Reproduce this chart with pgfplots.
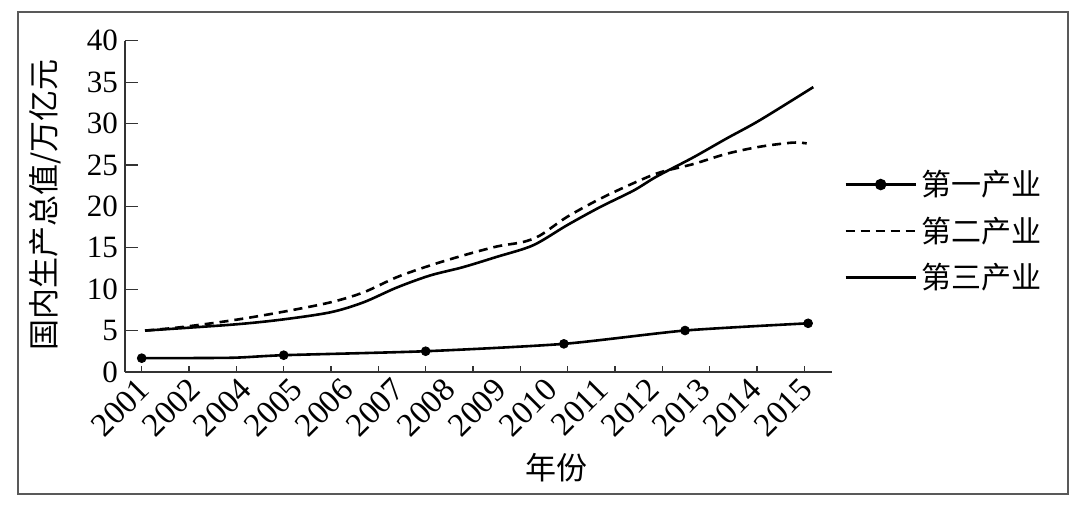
\documentclass[border=0pt]{standalone}
\usepackage{fontspec}
\setmainfont{Liberation Serif}
\newfontfamily\cjk{Noto Sans CJK SC}
\usepackage{pgfplots}
\pgfplotsset{compat=1.18}
\pgfplotstableread{
x y
0.00 1.67
1.90 1.72
3.00 2.03
6.00 2.51
8.92 3.40
11.48 5.01
14.08 5.88
}\primary
\pgfplotstableread{
x y
0.07 5.0
0.81 5.4
1.87 6.2
2.92 7.2
3.98 8.4
4.68 9.6
5.39 11.45
6.09 12.86
6.79 14.07
7.50 15.15
8.06 15.7
8.42 16.5
8.98 18.7
9.68 20.9
10.39 22.8
10.95 24.1
11.65 25.1
12.36 26.35
13.06 27.2
13.76 27.7
14.05 27.6
}\secondary
\pgfplotstableread{
x y
0.07 5.0
1.87 5.7
2.92 6.3
3.98 7.2
4.68 8.4
5.39 10.2
6.09 11.65
6.79 12.66
7.50 13.9
8.27 15.3
8.98 17.7
9.68 19.9
10.39 21.9
10.88 23.6
11.65 25.9
12.36 28.2
13.06 30.4
14.19 34.4
}\tertiary
\pgfplotsset{myax/.style={scale only axis, width=353.5pt, height=165.65pt,
  at={(0pt,0pt)}, anchor=south west,
  xmin=-0.353, xmax=14.585, ymin=0, ymax=40,
  axis x line=bottom, axis y line=left, tick align=inside}}
\begin{document}
\begin{tikzpicture}
\useasboundingbox (-62.5pt,-66.5pt) rectangle (477.5pt,186pt);
\draw[black!65, line width=0.6pt] (-53.5pt,-61pt) rectangle (471.5pt,180pt);
\begin{axis}[myax,
  axis line style={-, line width=0.6pt, black!80},
  xtick={0,...,14}, xticklabels={}, ytick=\empty,
  major tick length=3pt,
  tick style={black!80, line width=0.6pt},
  xlabel={\cjk\fontsize{15.5}{18}\selectfont 年份},
  xlabel style={at={(axis description cs:0.611,-0.29)}, anchor=center},
  ylabel={\cjk\fontsize{15.5}{18}\selectfont 国内生产总值/万亿元},
  ylabel style={at={(axis description cs:-0.113,0.504)}, anchor=center},
  legend image code/.code={\draw[#1, mark repeat=2, mark phase=2] plot coordinates {(0pt,0pt) (17.5pt,0pt) (35pt,0pt)};},
  legend style={draw=none, fill=none, at={(axis description cs:1.0,0.634)}, anchor=north west, xshift=3pt,
    font=\cjk\fontsize{15}{18}\selectfont, row sep=5pt},
  legend cell align=left,
  clip=false]
\addlegendimage{black, line width=1.3pt, mark=*, mark size=2.2pt}
\addlegendentry{第一产业}
\addlegendimage{black, line width=1.3pt, dash pattern=on 4.5pt off 3pt}
\addlegendentry{第二产业}
\addlegendimage{black, line width=1.3pt}
\addlegendentry{第三产业}
\addplot[black, line width=1.3pt, smooth, tension=0.4, forget plot] table[x=x,y=y] {\primary};
\addplot[black, only marks, mark=*, mark size=2.2pt, mark indices={1,3,4,5,6,7}, forget plot] table[x=x,y=y] {\primary};
\addplot[black, line width=1.3pt, smooth, tension=0.5, dash pattern=on 4.5pt off 3pt, forget plot] table[x=x,y=y] {\secondary};
\addplot[black, line width=1.3pt, smooth, tension=0.5, forget plot] table[x=x,y=y] {\tertiary};
\end{axis}
\begin{axis}[myax,
  axis line style={draw=none},
  xtick={0,1.0769,2.1538,3.2308,4.3077,5.3846,6.4615,7.5385,8.6154,9.6923,10.7692,11.8462,12.9231,14},
  xticklabels={2001,2002,2004,2005,2006,2007,2008,2009,2010,2011,2012,2013,2014,2015},
  x tick style={draw=none},
  ytick={0,5,...,40}, major tick length=6.5pt,
  y tick style={black!80, line width=0.6pt},
  yticklabel style={font=\fontsize{15.5}{18}\selectfont},
  xticklabel style={font=\fontsize{16.5}{19}\selectfont, rotate=45, anchor=east, yshift=-5pt},
  /pgf/number format/assume math mode=true]
\end{axis}
\end{tikzpicture}
\end{document}
